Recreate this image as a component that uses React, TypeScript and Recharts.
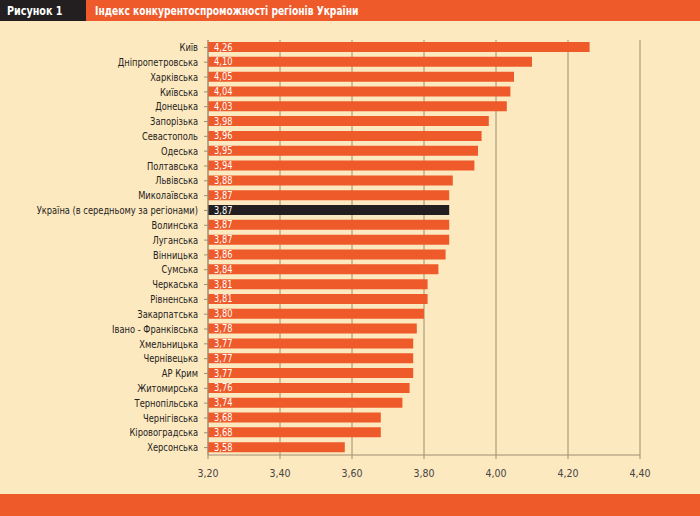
import React from "react";
import { BarChart, Bar, XAxis, YAxis, CartesianGrid, Cell, LabelList } from "recharts";

const regions: string[] = [
  "Київ",
  "Дніпропетровська",
  "Харківська",
  "Київська",
  "Донецька",
  "Запорізька",
  "Севастополь",
  "Одеська",
  "Полтавська",
  "Львівська",
  "Миколаївська",
  "Україна (в середньому за регіонами)",
  "Волинська",
  "Луганська",
  "Вінницька",
  "Сумська",
  "Черкаська",
  "Рівненська",
  "Закарпатська",
  "Івано - Франківська",
  "Хмельницька",
  "Чернівецька",
  "АР Крим",
  "Житомирська",
  "Тернопільська",
  "Чернігівська",
  "Кіровоградська",
  "Херсонська",
];

const indexValues: number[] = [
  4.26, 4.1, 4.05, 4.04, 4.03, 3.98, 3.96, 3.95, 3.94, 3.88, 3.87, 3.87, 3.87, 3.87,
  3.86, 3.84, 3.81, 3.81, 3.8, 3.78, 3.77, 3.77, 3.77, 3.76, 3.74, 3.68, 3.68, 3.58,
];

const axisTicks: number[] = [3.2, 3.4, 3.6, 3.8, 4.0, 4.2, 4.4];

const averageLabel = "Україна (в середньому за регіонами)";

const ORANGE = "#ee5a2a";
const CREAM = "#fde9bf";
const DARK = "#231f20";
const GRID = "#9d8e72";
const FONT = '"Liberation Sans Narrow", "Arial Narrow", "DejaVu Sans Condensed", "Liberation Sans", sans-serif';

const data = regions.map((name, i) => ({ name, value: indexValues[i] }));

const fmt = (v: number) => v.toFixed(2).replace(".", ",");

// Region name on one line, right-aligned against the axis, slightly condensed
const RegionTick = (props: any) => {
  const { x, y, payload } = props;
  return (
    <text
      transform={`translate(${x},${y}) scale(0.88,1)`}
      x={0}
      y={0}
      dy="0.35em"
      textAnchor="end"
      fill="#222"
      fontSize={10.5}
      fontFamily={FONT}
    >
      {payload.value}
    </text>
  );
};

// Value printed inside the left end of each bar
const ValueLabel = (props: any) => {
  const { x, y, height, value } = props;
  return (
    <text
      transform={`translate(${x + 6},${y + height / 2}) scale(0.92,1)`}
      x={0}
      y={0}
      dy="0.35em"
      fill="#fff"
      fontSize={10}
      fontFamily={FONT}
    >
      {fmt(value)}
    </text>
  );
};

const headerText: React.CSSProperties = {
  position: "absolute",
  top: 0,
  height: 21,
  color: "#fff",
  fontWeight: "bold",
  fontSize: 13,
  lineHeight: "21px",
  whiteSpace: "nowrap",
  transformOrigin: "left center",
};

export default function App() {
  return (
    <div
      style={{
        position: "fixed",
        left: 0,
        top: 0,
        width: 700,
        height: 516,
        background: CREAM,
        fontFamily: FONT,
        overflow: "hidden",
      }}
    >
      <div
        style={{
          position: "absolute",
          left: 0,
          top: 0,
          width: 700,
          height: 21,
          background: ORANGE,
        }}
      />
      <div
        style={{
          position: "absolute",
          left: 0,
          top: 0,
          width: 86,
          height: 21,
          background: DARK,
        }}
      />
      <div style={{ ...headerText, left: 7, transform: "scaleX(0.82)" }}>Рисунок 1</div>
      <div style={{ ...headerText, left: 95, transform: "scaleX(0.78)" }}>
        Індекс конкурентоспроможності регіонів України
      </div>
      <div
        style={{
          position: "absolute",
          left: 0,
          top: 494,
          width: 700,
          height: 22,
          background: ORANGE,
        }}
      />
      <div style={{ position: "absolute", left: 0, top: 0 }}>
        <BarChart
          width={700}
          height={516}
          data={data}
          layout="vertical"
          margin={{ top: 40, right: 60, bottom: 31, left: 0 }}
          barCategoryGap={2}
        >
          <CartesianGrid horizontal={false} vertical stroke={GRID} strokeWidth={1} />
          <XAxis
            type="number"
            domain={[3.2, 4.4]}
            ticks={axisTicks}
            tickFormatter={fmt}
            height={30}
            tickSize={4}
            tickMargin={11}
            axisLine={{ stroke: GRID }}
            tickLine={{ stroke: GRID }}
            tick={{ fill: "#444", fontSize: 10.5, fontFamily: FONT }}
            allowDataOverflow
          />
          <YAxis
            type="category"
            dataKey="name"
            width={208}
            interval={0}
            tickSize={4}
            tickMargin={6}
            axisLine={{ stroke: GRID }}
            tickLine={{ stroke: GRID }}
            tick={<RegionTick />}
          />
          <Bar dataKey="value" barSize={10} isAnimationActive={false}>
            {data.map((d) => (
              <Cell key={d.name} fill={d.name === averageLabel ? DARK : ORANGE} />
            ))}
            <LabelList dataKey="value" content={<ValueLabel />} />
          </Bar>
        </BarChart>
      </div>
    </div>
  );
}
